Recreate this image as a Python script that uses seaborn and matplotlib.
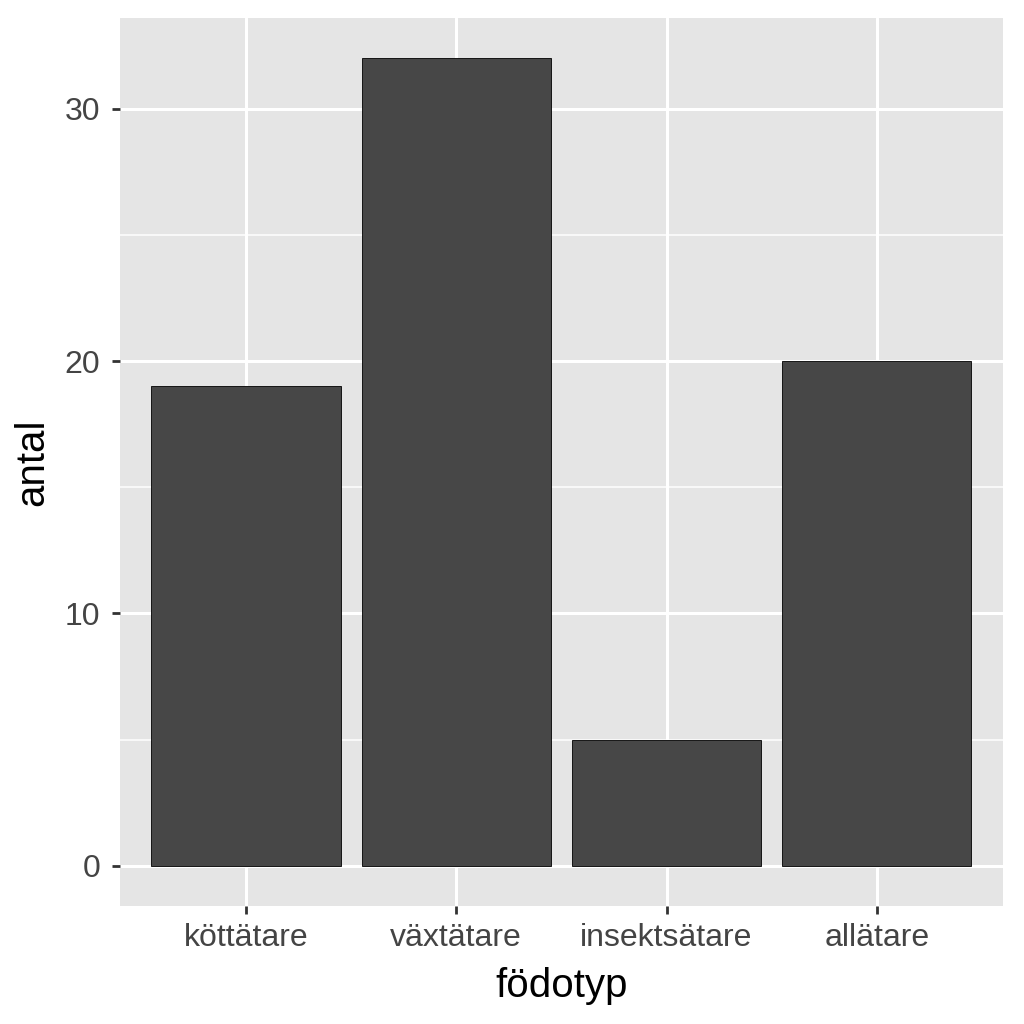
import pandas as pd
import matplotlib
matplotlib.use("Agg")
import matplotlib.pyplot as plt
import seaborn as sns
from matplotlib.ticker import MultipleLocator

# Data
food_types = ["köttätare", "växtätare", "insektsätare", "allätare"]
counts = [19, 32, 5, 20]

df = pd.DataFrame({"födotyp": food_types, "antal": counts})

sns.set_theme(style="darkgrid", rc={
    "axes.facecolor": "#E5E5E5",
    "grid.color": "white",
    "axes.edgecolor": "#E5E5E5",
})
plt.rcParams["font.family"] = ["Liberation Sans", "DejaVu Sans"]

fig = plt.figure(figsize=(10.24, 10.24), dpi=100)
ax = fig.add_axes([0.117, 0.115, 0.8625, 0.8675])

sns.barplot(data=df, x="födotyp", y="antal", order=food_types, color="#474747",
            saturation=1, width=0.9, edgecolor="black", linewidth=0.6, ax=ax)

ymax = max(counts)
ax.set_ylim(-0.05 * ymax, ymax * 1.05)
ax.set_xlim(-0.6, len(food_types) - 0.4)
ax.yaxis.set_major_locator(MultipleLocator(10))
ax.yaxis.set_minor_locator(MultipleLocator(5))
ax.grid(which="major", color="white", linewidth=2.2)
ax.grid(which="minor", axis="y", color="white", linewidth=1.1)
ax.set_axisbelow(True)
for s in ax.spines.values():
    s.set_visible(False)

ax.tick_params(axis="both", which="major", length=6, width=2, color="#333333",
               labelsize=23, labelcolor="#444444", pad=6, bottom=True, left=True)
ax.tick_params(axis="y", which="major", pad=8)
ax.tick_params(axis="both", which="minor", length=0)
ax.set_xlabel("födotyp", fontsize=29, color="black", labelpad=10)
ax.set_ylabel("antal", fontsize=29, color="black", labelpad=10)

fig.savefig("out.png", dpi=100, facecolor="white")
